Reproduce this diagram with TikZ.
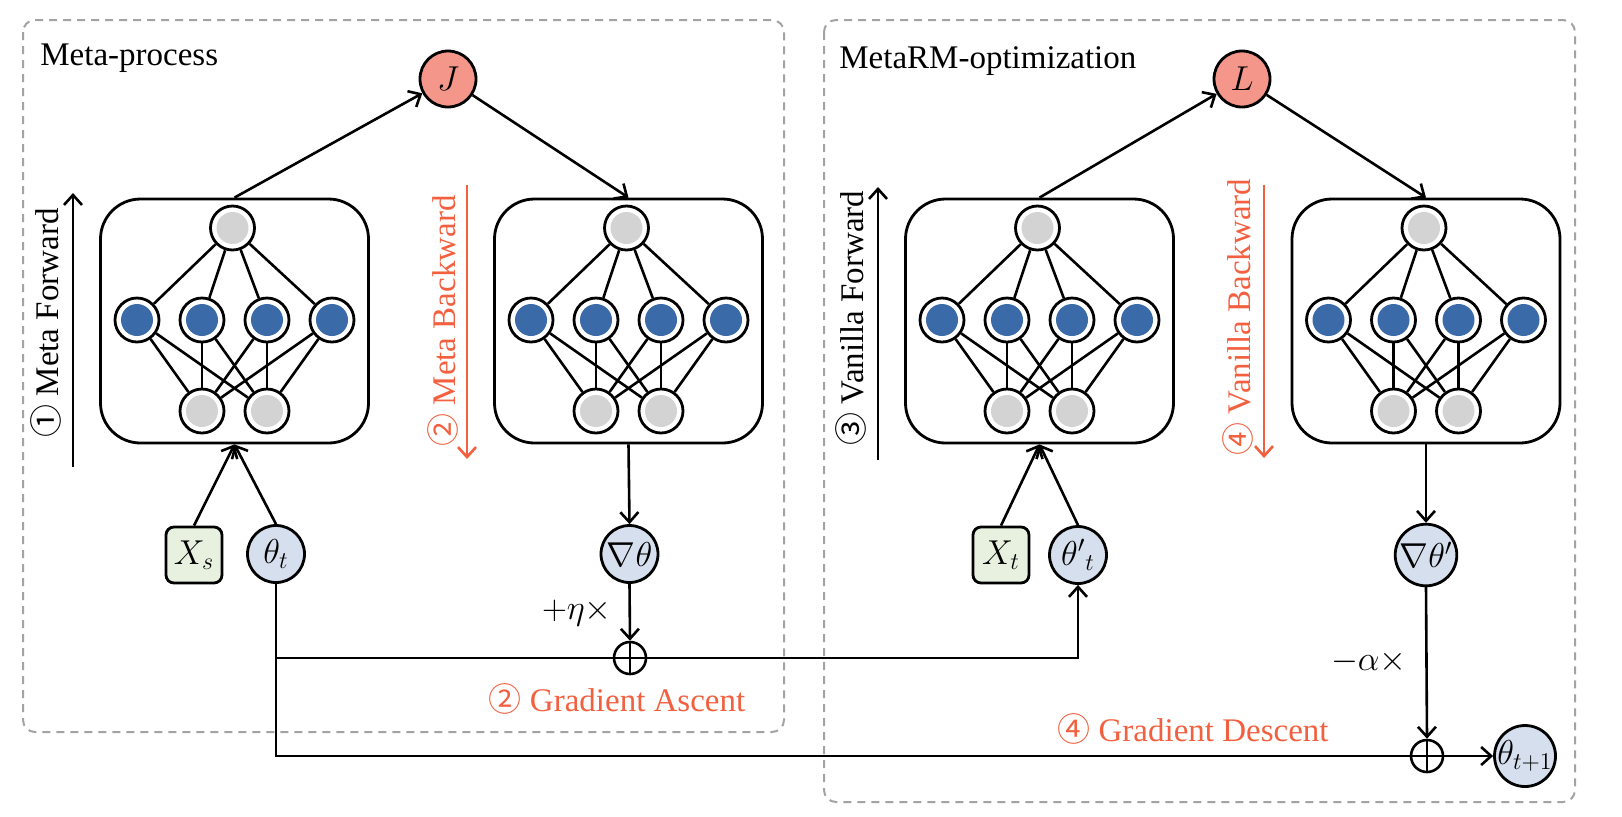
\documentclass[tikz,border=0pt]{standalone}
\usepackage{fontspec}
\setmainfont{Liberation Serif}
\newfontfamily\circfont{Noto Sans CJK SC}
\usetikzlibrary{arrows.meta}
\usetikzlibrary{positioning}
\usetikzlibrary{calc}

\definecolor{lossred}{HTML}{F4978A}
\definecolor{inputgreen}{HTML}{E8F1E0}
\definecolor{parblue}{HTML}{D6DFEE}
\definecolor{unitblue}{HTML}{3A6BA8}
\definecolor{unitgray}{HTML}{D3D3D3}
\definecolor{stepred}{HTML}{F2603F}
\definecolor{framegray}{HTML}{A3A3A3}

\newcommand{\bodyfont}{\fontsize{16.5}{20}\selectfont}

\tikzset{
  netbox/.style={draw, line width=1.4pt, rounded corners=20pt, minimum width=134pt, minimum height=122pt},
  unit/.style={circle, draw, line width=1.4pt, fill=white, minimum size=22pt, inner sep=0pt,
    path picture={\fill[#1] (path picture bounding box.center) circle (8pt);}},
  link/.style={line width=1.3pt},
  lossnode/.style={circle, draw, line width=1.4pt, fill=lossred, minimum size=28pt, inner sep=0pt},
  datanode/.style={draw, line width=1.4pt, fill=inputgreen, rounded corners=4pt, minimum size=28pt, inner sep=0pt},
  parnode/.style={circle, draw, line width=1.4pt, fill=parblue, minimum size=28.5pt, inner sep=0.5pt},
  sumnode/.style={circle, draw, line width=1.3pt, minimum size=16pt, inner sep=0pt,
    path picture={\draw[line width=1.3pt] (path picture bounding box.north) -- (path picture bounding box.south)
      (path picture bounding box.west) -- (path picture bounding box.east);}},
  frame/.style={draw=framegray, line width=1pt, dash pattern=on 4pt off 3pt, rounded corners=6pt},
  steplabel/.style={text=stepred},
}

% small network: name, x of its centre
\newcommand{\mlpnet}[2]{%
  \node[netbox] (#1) at (#2,321) {};
  \node[unit=unitgray] (#1t) at ({#2-2},228) {};
  \foreach \i/\dx in {1/-97.5,2/-32.5,3/32.5,4/97.5}
    \node[unit=unitblue] (#1h\i) at ({#2+\dx},320) {};
  \foreach \i/\dx in {1/-32.5,2/32.5}
    \node[unit=unitgray] (#1b\i) at ({#2+\dx},411) {};
  \foreach \i in {1,...,4} {
    \draw[link] (#1t) -- (#1h\i);
    \draw[link] (#1h\i) -- (#1b1);
    \draw[link] (#1h\i) -- (#1b2);
  }
}

\begin{document}
\begin{tikzpicture}[x=0.5pt, y=-0.5pt, >={Straight Barb[length=5pt,width=9pt]},
    every node/.append style={font=\bodyfont}]
  \useasboundingbox (0,0) rectangle (1622,816);

  % frames
  \draw[frame] (23,20) rectangle (784,732);
  \draw[frame] (824,20) rectangle (1575,802);
  \node[anchor=base west, inner sep=0pt] (metaTitle) at (40,65) {Meta-process};
  \node[anchor=base west, inner sep=0pt] (rmTitle) at (839,68) {MetaRM-optimization};

  % losses
  \node[lossnode] (J) at (448,79) {$J$};
  \node[lossnode] (L) at (1242,79) {$L$};

  % networks
  \mlpnet{mf}{234.5}
  \mlpnet{mb}{628.5}
  \mlpnet{vf}{1039.5}
  \mlpnet{vb}{1426}

  % inputs and parameters
  \node[datanode] (Xs) at (194,555) {$X_s$};
  \node[parnode] (thetat) at (276,554) {$\theta_t$};
  \node[parnode] (grad) at (629.5,554) {$\nabla\theta$};
  \node[sumnode] (add1) at (630,658) {};
  \node[datanode] (Xt) at (1001,555) {$X_t$};
  \node[parnode] (thetap) at (1078,555) {${\theta'}_t$};
  \node[parnode] (gradp) at (1426,555) {$\nabla\theta'$};
  \node[sumnode] (add2) at (1427,756) {};
  \node[parnode, minimum size=30.5pt, inner sep=0pt] (thetanext) at (1525,756) {\makebox[18pt]{$\theta_{t+1}$}};

  % forward / backward marks
  \coordinate (mfS) at (73,467);
  \coordinate (mfE) at (73,193);
  \coordinate (mbS) at (467,185);
  \coordinate (mbE) at (467,459);
  \coordinate (vfS) at (878,460);
  \coordinate (vfE) at (878,187);
  \coordinate (vbS) at (1264,185);
  \coordinate (vbE) at (1264,458);
  \draw[->, link] (mfS) -- (mfE);
  \draw[->, link, stepred] (mbS) -- (mbE);
  \draw[->, link] (vfS) -- (vfE);
  \draw[->, link, stepred] (vbS) -- (vbE);
  \node[rotate=90] (mfText) at (46,323) {{\circfont ①} Meta Forward};
  \node[rotate=90, steplabel] (mbText) at (443,321) {{\circfont ②} Meta Backward};
  \node[rotate=90] (vfText) at (851,318) {{\circfont ③} Vanilla Forward};
  \node[rotate=90, steplabel] (vbText) at (1238,317) {{\circfont ④} Vanilla Backward};

  % connectors
  \draw[->, link] (mf.north) -- (J);
  \draw[->, link] (J) -- (mb.north);
  \draw[->, link] (vf.north) -- (L);
  \draw[->, link] (L) -- (vb.north);
  \draw[->, link] (Xs.north) -- (mf.south);
  \draw[->, link] (thetat.north) -- (mf.south);
  \draw[->, link] (mb.south) -- (grad.north);
  \draw[->, link] (grad.south) -- node[left=5pt] {$+\eta\times$} (add1.north);
  \draw[link] (thetat.south) |- (add1.west);
  \draw[->, link] (add1.east) -| (thetap.south);
  \draw[link] (thetat.south) |- (add2.west);
  \draw[->, link] (add2.east) -- (thetanext.west);
  \draw[->, link] (Xt.north) -- (vf.south);
  \draw[->, link] (thetap.north) -- (vf.south);
  \draw[->, link] (vb.south) -- (gradp.north);
  \draw[->, link] (gradp.south) -- node[left=6pt, pos=0.49] {$-\alpha\times$} (add2.north);

  % step names
  \node[steplabel] (ascent) at (617,699) {{\circfont ②} Gradient Ascent};
  \node[steplabel] (descent) at (1193,729) {{\circfont ④} Gradient Descent};
\end{tikzpicture}
\end{document}
